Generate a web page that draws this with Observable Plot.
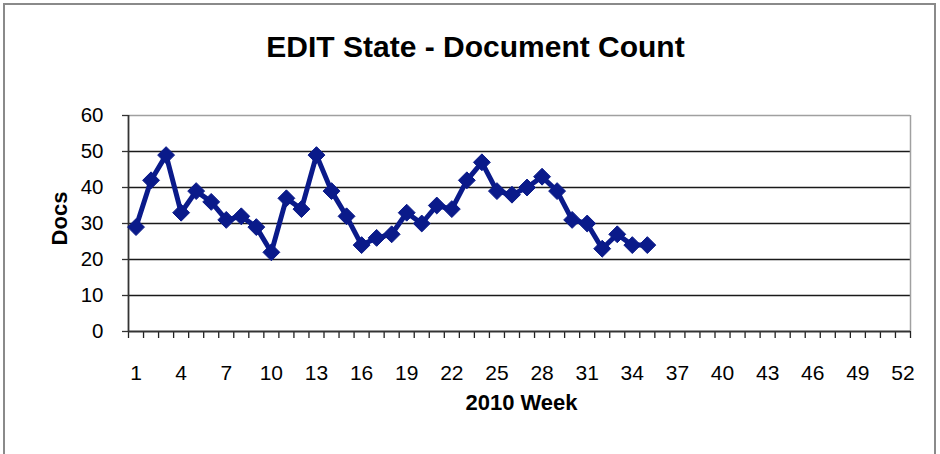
<!DOCTYPE html>
<html>
<head>
<meta charset="utf-8">
<script src="https://cdn.jsdelivr.net/npm/d3@7"></script>
<script src="https://cdn.jsdelivr.net/npm/@observablehq/plot@0.6"></script>
<style>
  html, body { margin: 0; padding: 0; background: #fff; }
  #wrap { position: relative; width: 940px; height: 454px; overflow: hidden; }
  #border { position: absolute; left: 3px; top: 3px; width: 933px; height: 470px; border: 2px solid #8a8a8a; box-sizing: border-box; pointer-events: none; }
</style>
</head>
<body>
<div id="wrap"><div id="border"></div></div>
<script>
// Data
const title = "EDIT State - Document Count";
const xLabel = "2010 Week";
const yLabel = "Docs";
const weeks = [1,2,3,4,5,6,7,8,9,10,11,12,13,14,15,16,17,18,19,20,21,22,23,24,25,26,27,28,29,30,31,32,33,34,35];
const docs  = [29,42,49,33,39,36,31,32,29,22,37,34,49,39,32,24,26,27,33,30,35,34,42,47,39,38,40,43,39,31,30,23,27,24,24];
const xTickLabels = [1,4,7,10,13,16,19,22,25,28,31,34,37,40,43,46,49,52];
const yTicks = [0,10,20,30,40,50,60];
const weekCount = 52;

const data = weeks.map((w, i) => ({week: w, docs: docs[i]}));
const boundaries = d3.range(0, weekCount + 1).map(i => i + 0.5);
const navy = "#0a1a8a";

const chart = Plot.plot({
  width: 940,
  height: 454,
  marginLeft: 128,
  marginRight: 30,
  marginTop: 115,
  marginBottom: 123,
  x: {domain: [0.5, weekCount + 0.5], axis: null},
  y: {domain: [0, 60], axis: null},
  style: {fontFamily: "'Liberation Sans', Arial, sans-serif", color: "#000", background: "transparent", overflow: "visible"},
  marks: [
    Plot.gridY(yTicks.filter(t => t > 0 && t < 60), {stroke: "#1a1a1a", strokeOpacity: 1, strokeWidth: 1.4}),
    Plot.ruleY([60], {stroke: "#a0a0a0", strokeWidth: 1.5}),
    Plot.ruleX([weekCount + 0.5], {stroke: "#a0a0a0", strokeWidth: 1.5}),
    Plot.axisY({ticks: yTicks, tickSize: 6, tickPadding: 19, fontSize: 20.5, label: null, stroke: "#333", strokeWidth: 1.3}),
    Plot.axisX({ticks: boundaries, tickSize: 7, tickFormat: () => "", label: null, stroke: "#222", strokeWidth: 1.3}),
    Plot.axisX({ticks: xTickLabels, tickSize: 0, tickPadding: 34, fontSize: 21, label: null}),
    Plot.ruleX([0.5], {stroke: "#333", strokeWidth: 1.8}),
    Plot.ruleY([0], {stroke: "#333", strokeWidth: 1.8}),
    Plot.line(data, {x: "week", y: "docs", stroke: navy, strokeWidth: 5, strokeLinejoin: "round"}),
    Plot.dot(data, {x: "week", y: "docs", symbol: "diamond2", r: 7.6, fill: navy, stroke: navy, strokeWidth: 1}),
    Plot.text([title], {frameAnchor: "top", lineAnchor: "middle", dx: -44, dy: -68.3, fontSize: 30, fontWeight: "bold"}),
    Plot.text([xLabel], {frameAnchor: "bottom", lineAnchor: "middle", dx: 2, dy: 71.5, fontSize: 22, fontWeight: "bold"}),
    Plot.text([yLabel], {frameAnchor: "left", textAnchor: "middle", lineAnchor: "middle", dx: -69, dy: -5, rotate: -90, fontSize: 22, fontWeight: "bold"})
  ]
});
document.getElementById("wrap").prepend(chart);
</script>
</body>
</html>
